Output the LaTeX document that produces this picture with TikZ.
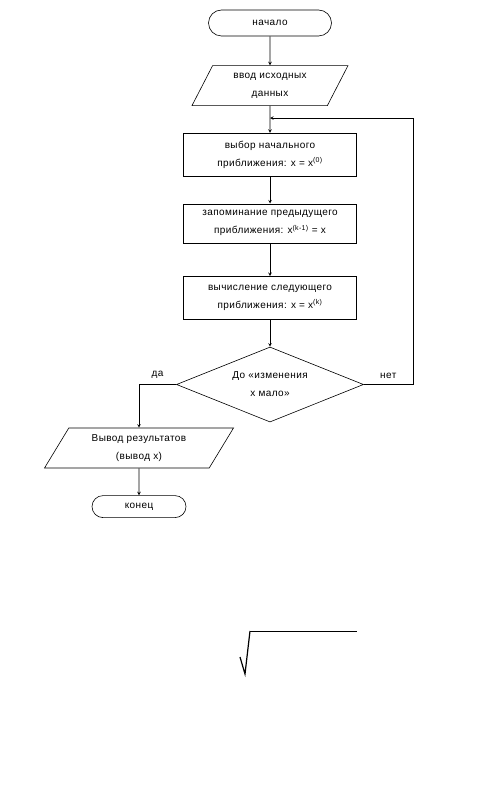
\documentclass[tikz,border=0pt]{standalone}
\usepackage{fontspec}
\setmainfont[LetterSpace=4]{Liberation Sans}
\usetikzlibrary{positioning,shapes.geometric,calc}

\begin{document}
\begin{tikzpicture}[>=stealth,x=1pt,y=1pt,line width=0.6pt,
  every node/.style={font=\fontsize{10}{18}\selectfont},
  term/.style={draw,rectangle,rounded corners=13pt,minimum width=123pt,minimum height=26pt},
  io/.style={draw,trapezium,trapezium stretches body,trapezium left angle=53,trapezium right angle=127,minimum height=40pt,inner xsep=0pt,inner ysep=1pt,align=center},
  proc/.style={draw,rectangle,minimum width=173pt,minimum height=43pt,inner ysep=1pt,align=center},
  cond/.style={draw,diamond,aspect=2.5,minimum width=187pt,minimum height=75pt,inner sep=0pt,align=center}]

            \useasboundingbox (0,0) rectangle (489,-794);

            \node[term] (start) at (270,-23) {начало};
            \node[io, minimum width=156pt] (input) [below=29pt of start] {ввод исходных\\данных};
            \node[proc] (init) [below=27pt of input] {выбор начального\\приближения:  x =  x\textsuperscript{(0)}};
            \node[proc, minimum height=39pt] (store) [below=27pt of init] {запоминание предыдущего\\приближения:  x\textsuperscript{(k-1)} = x};
            \node[proc] (next) [below=33pt of store] {вычисление следующего\\приближения:  x = x\textsuperscript{(k)}};
            \node[cond] (check) [below=27pt of next] {До «изменения\\x мало»};
            \node[io, minimum width=189pt, trapezium left angle=50, trapezium right angle=130] (output) at (139,-448) {Вывод результатов\\(вывод  x)};
            \node[term, minimum width=94pt, minimum height=22pt, rounded corners=11pt] (stop) [below=27pt of output] {конец};

            \coordinate (back) at ($(input.south)!0.45!(init.north)$);

            \draw[->] (start) to (input);
            \draw[->] (input) to (init);
            \draw[->] (init) to (store);
            \draw[->] (store) to (next);
            \draw[->] (next) to (check);
            \draw[->] (check.west) -| node[pos=0.25, above=2pt] {да} (output.north);
            \draw[->] (check.east) -- node[above=2pt] {нет} ++(49,0) |- (back);
            \draw[->] (output) to (stop);

            % root sign
            \draw[line width=1.2pt, line join=miter] (240,-657) -- (245,-674) -- (250,-631);
            \draw[line width=0.7pt] (250,-631) -- (357,-631);

            ;
\end{tikzpicture}
\end{document}
